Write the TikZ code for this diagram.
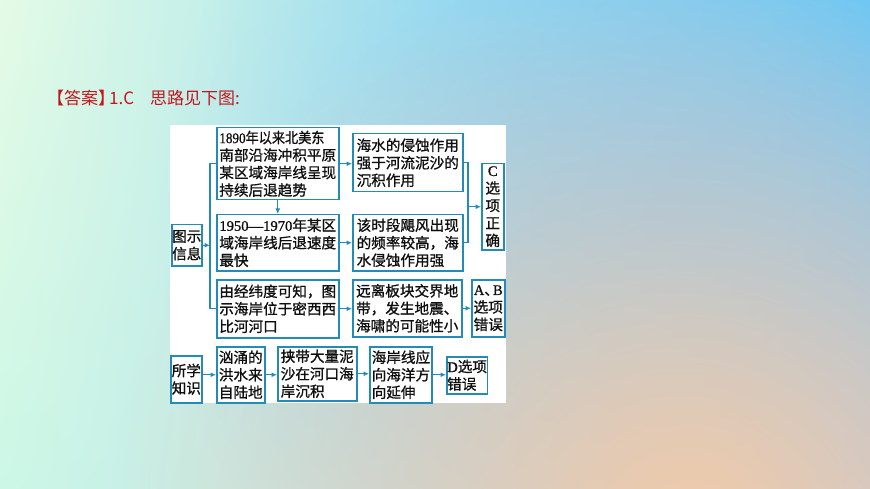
\documentclass[tikz,border=0pt]{standalone}
\usepackage{fontspec}
\usepackage{graphicx}
\setmainfont{Liberation Serif}
\newfontfamily\cjk{Noto Sans CJK SC}[FakeBold=1.0]
\newfontfamily\hdrfont{Noto Sans CJK SC}
\newfontfamily\lat{Liberation Serif}[FakeBold=1.0]
\usetikzlibrary{arrows.meta,fadings,shadings}
\definecolor{bc}{RGB}{36,138,184}
\definecolor{hdr}{RGB}{196,22,28}
\definecolor{txt}{RGB}{15,15,15}
\definecolor{bgUL}{RGB}{228,251,230}
\definecolor{bgUR}{RGB}{96,202,246}
\definecolor{bgLL}{RGB}{204,247,230}
\definecolor{bgLR}{RGB}{176,200,236}
\definecolor{peach}{RGB}{242,202,168}
\definecolor{skyb}{RGB}{130,194,246}
\tikzfading[name=radfade, inner color=transparent!0, outer color=transparent!100]
\begin{document}
\begin{tikzpicture}[x=1pt,y=-1pt,
  box/.style={draw=bc, line width=1.5pt, fill=white, anchor=north west,
    inner xsep=2pt, inner ysep=1pt, align=left, text=txt,
    font=\cjk\fontsize{14.6}{17.5}\selectfont},
  cbox/.style={box, align=center},
  arr/.style={draw=bc, line width=1.4pt, -{Latex[length=5.5pt,width=5pt]}},
  ln/.style={draw=bc, line width=1.4pt}]
% background
\useasboundingbox (0,0) rectangle (870,489);
\shade[upper left=bgUL, upper right=bgUR, lower left=bgLL, lower right=bgLR] (0,0) rectangle (870,489);
\begin{scope}
  \clip (0,0) rectangle (870,489);
  \fill[skyb, opacity=0.7, path fading=radfade] (680,220) circle (520);
  \fill[peach, path fading=radfade] (690,530) circle (580);
\end{scope}
% header
\node[anchor=west, font=\hdrfont\fontsize{17}{20}\selectfont, text=hdr, inner sep=0] (head) at (47,98)
  {【答案】\kern-6pt 1.C\hspace{16pt}思路见下图:};
% panel
\fill[white] (170,125) rectangle (506,403);
% boxes
\node[box, minimum width=29, minimum height=41, inner xsep=0.5pt] (info) at (171,224) {图示\\信息};
\node[box, minimum width=122, minimum height=72] (b1) at (216,127)
  {\scalebox{0.9}[1]{{\lat 1890}年以来北美东}\\南部沿海冲积平原\\某区域海岸线呈现\\持续后退趋势};
\node[box, minimum width=122, minimum height=56] (b2) at (216,214)
  {{\lat 1950—1970}年某区\\域海岸线后退速度\\最快};
\node[box, minimum width=122, minimum height=58] (b3) at (216,279)
  {由经纬度可知，图\\示海岸位于密西西\\比河河口};
\node[box, minimum width=110, minimum height=58] (mA) at (352,133)
  {海水的侵蚀作用\\强于河流泥沙的\\沉积作用};
\node[box, minimum width=110, minimum height=56] (mB) at (352,214)
  {该时段飓风出现\\的频率较高，海\\水侵蚀作用强};
\node[box, minimum width=109, minimum height=57] (mC) at (352,279)
  {远离板块交界地\\带，发生地震、\\海啸的可能性小};
\node[cbox, minimum width=22, minimum height=86, inner xsep=1pt] (rC) at (481,163)
  {{\lat C}\\选\\项\\正\\确};
\node[cbox, minimum width=33, minimum height=57, inner xsep=1pt] (rAB) at (471,279)
  {{\lat A}、\kern-6pt{\lat B}\\选项\\错误};
\node[box, minimum width=31, minimum height=47, inner xsep=1pt] (know) at (170,355) {所学\\知识};
\node[box, minimum width=48, minimum height=56] (k1) at (216,346) {汹涌的\\洪水来\\自陆地};
\node[box, minimum width=79, minimum height=54] (k2) at (277,346) {挟带大量泥\\沙在河口海\\岸沉积};
\node[box, minimum width=61, minimum height=56] (k3) at (369,346) {海岸线应\\向海洋方\\向延伸};
\node[box, minimum width=40, minimum height=37, inner xsep=0.5pt] (k4) at (446,356) {{\lat D}选项\\错误};
% connectors
\coordinate (lx) at (210,0);
\coordinate (rx) at (468,0);
\draw[ln] (b1.west) -- (b1.west -| lx) -- (b3.west -| lx) -- (b3.west);
\draw[arr] (info.east) -- (info.east -| lx);
\draw[arr] (b1.south) -- (b2.north);
\draw[arr] (b1.east) -- (b1.east -| mA.west);
\draw[arr] (b2.east) -- (b2.east -| mB.west);
\draw[ln] (mA.east) -- (mA.east -| rx) -- (mB.east -| rx) -- (mB.east);
\draw[arr] (rC.west -| rx) -- (rC.west);
\draw[arr] (b3.east) -- (b3.east -| mC.west);
\draw[arr] (mC.east) -- (mC.east -| rAB.west);
\draw[arr] (know.east |- k1.west) -- (k1.west);
\draw[arr] (k1.east) -- (k1.east -| k2.west);
\draw[arr] (k2.east) -- (k2.east -| k3.west);
\draw[arr] (k3.east) -- (k3.east -| k4.west);
\end{tikzpicture}
\end{document}
